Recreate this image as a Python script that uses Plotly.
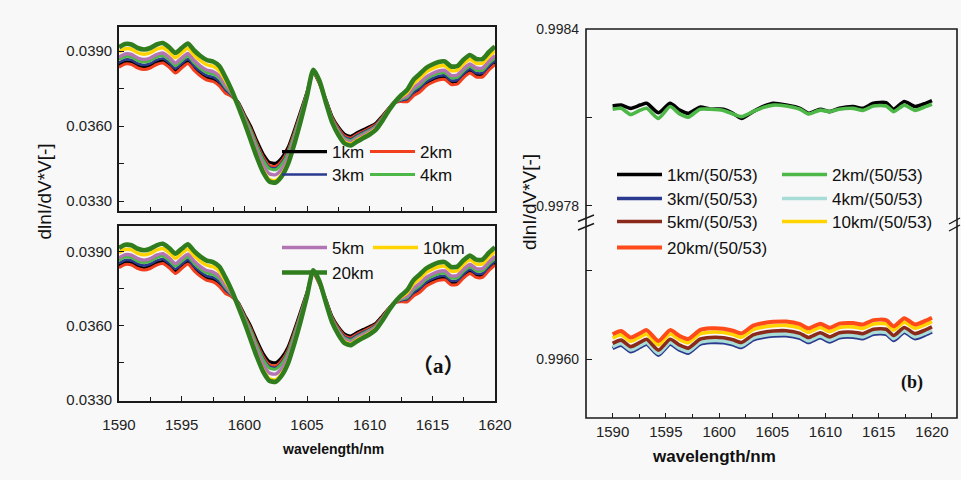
import plotly.graph_objects as go

W, H = 961, 480

# ---------------- data: panel (a) ----------------
wl_a = [1590.0, 1590.5, 1591.0, 1591.5, 1592.0, 1592.5, 1593.0, 1593.5, 1594.0, 1594.5,
        1595.0, 1595.5, 1596.0, 1596.5, 1597.0, 1597.5, 1598.0, 1598.5, 1599.0, 1599.5,
        1600.0, 1600.5, 1601.0, 1601.5, 1602.0, 1602.5, 1603.0, 1603.5, 1604.0, 1604.5,
        1605.0, 1605.5, 1606.0, 1606.5, 1607.0, 1607.5, 1608.0, 1608.5, 1609.0, 1609.5,
        1610.0, 1610.5, 1611.0, 1611.5, 1612.0, 1612.5, 1613.0, 1613.5, 1614.0, 1614.5,
        1615.0, 1615.5, 1616.0, 1616.5, 1617.0, 1617.5, 1618.0, 1618.5, 1619.0, 1619.5,
        1620.0]

km1_a = [0.03843, 0.03856, 0.03854, 0.03840, 0.03834, 0.03840, 0.03854, 0.03860, 0.03843, 0.03820,
         0.03840, 0.03858, 0.03830, 0.03808, 0.03792, 0.03786, 0.03768, 0.03737, 0.03720, 0.03695,
         0.03646, 0.03599, 0.03540, 0.03488, 0.03455, 0.03451, 0.03473, 0.03515, 0.03584, 0.03659,
         0.03735, 0.03817, 0.03772, 0.03706, 0.03637, 0.03596, 0.03567, 0.03559, 0.03573, 0.03585,
         0.03597, 0.03611, 0.03639, 0.03669, 0.03695, 0.03700, 0.03702, 0.03727, 0.03743, 0.03767,
         0.03781, 0.03791, 0.03793, 0.03773, 0.03775, 0.03801, 0.03819, 0.03803, 0.03803, 0.03830,
         0.03853]
km2_a = [0.03835, 0.03848, 0.03846, 0.03832, 0.03826, 0.03832, 0.03846, 0.03852, 0.03835, 0.03812,
         0.03832, 0.03850, 0.03822, 0.03800, 0.03784, 0.03778, 0.03760, 0.03731, 0.03718, 0.03693,
         0.03641, 0.03590, 0.03529, 0.03476, 0.03442, 0.03438, 0.03461, 0.03504, 0.03575, 0.03652,
         0.03733, 0.03813, 0.03768, 0.03704, 0.03633, 0.03591, 0.03560, 0.03552, 0.03567, 0.03579,
         0.03592, 0.03606, 0.03635, 0.03668, 0.03695, 0.03698, 0.03697, 0.03721, 0.03736, 0.03760,
         0.03774, 0.03784, 0.03786, 0.03766, 0.03768, 0.03794, 0.03812, 0.03796, 0.03796, 0.03823,
         0.03846]
km3_a = [0.03853, 0.03866, 0.03864, 0.03850, 0.03844, 0.03850, 0.03864, 0.03870, 0.03853, 0.03830,
         0.03850, 0.03868, 0.03840, 0.03818, 0.03802, 0.03796, 0.03778, 0.03745, 0.03723, 0.03691,
         0.03638, 0.03585, 0.03523, 0.03469, 0.03435, 0.03431, 0.03454, 0.03498, 0.03570, 0.03649,
         0.03731, 0.03815, 0.03770, 0.03703, 0.03630, 0.03586, 0.03555, 0.03547, 0.03562, 0.03575,
         0.03587, 0.03603, 0.03633, 0.03666, 0.03695, 0.03703, 0.03708, 0.03735, 0.03752, 0.03776,
         0.03790, 0.03800, 0.03802, 0.03782, 0.03784, 0.03810, 0.03828, 0.03812, 0.03812, 0.03839,
         0.03862]
km4_a = [0.03865, 0.03878, 0.03876, 0.03862, 0.03856, 0.03862, 0.03876, 0.03882, 0.03865, 0.03842,
         0.03862, 0.03880, 0.03852, 0.03830, 0.03814, 0.03808, 0.03790, 0.03755, 0.03727, 0.03690,
         0.03635, 0.03581, 0.03518, 0.03463, 0.03429, 0.03425, 0.03448, 0.03493, 0.03566, 0.03646,
         0.03730, 0.03818, 0.03773, 0.03701, 0.03627, 0.03582, 0.03550, 0.03542, 0.03557, 0.03570,
         0.03583, 0.03599, 0.03630, 0.03665, 0.03695, 0.03707, 0.03715, 0.03745, 0.03763, 0.03787,
         0.03801, 0.03811, 0.03813, 0.03793, 0.03795, 0.03821, 0.03839, 0.03823, 0.03823, 0.03850,
         0.03873]
km5_a = [0.03875, 0.03888, 0.03886, 0.03872, 0.03866, 0.03872, 0.03886, 0.03892, 0.03875, 0.03852,
         0.03872, 0.03890, 0.03862, 0.03840, 0.03824, 0.03818, 0.03800, 0.03763, 0.03730, 0.03686,
         0.03627, 0.03567, 0.03501, 0.03444, 0.03409, 0.03405, 0.03429, 0.03476, 0.03552, 0.03636,
         0.03726, 0.03820, 0.03775, 0.03699, 0.03623, 0.03577, 0.03544, 0.03536, 0.03551, 0.03565,
         0.03578, 0.03595, 0.03627, 0.03664, 0.03695, 0.03710, 0.03721, 0.03753, 0.03772, 0.03796,
         0.03810, 0.03820, 0.03822, 0.03802, 0.03804, 0.03830, 0.03848, 0.03832, 0.03832, 0.03859,
         0.03882]
km10_a = [0.03896, 0.03909, 0.03907, 0.03893, 0.03887, 0.03893, 0.03907, 0.03913, 0.03896, 0.03873,
          0.03893, 0.03911, 0.03883, 0.03861, 0.03845, 0.03839, 0.03821, 0.03780, 0.03736, 0.03682,
          0.03618, 0.03551, 0.03482, 0.03423, 0.03386, 0.03382, 0.03408, 0.03457, 0.03536, 0.03624,
          0.03722, 0.03822, 0.03777, 0.03697, 0.03619, 0.03570, 0.03536, 0.03528, 0.03544, 0.03557,
          0.03571, 0.03589, 0.03623, 0.03662, 0.03695, 0.03716, 0.03734, 0.03770, 0.03791, 0.03815,
          0.03829, 0.03839, 0.03841, 0.03821, 0.03823, 0.03849, 0.03867, 0.03851, 0.03851, 0.03878,
          0.03901]
km20_a = [0.03915, 0.03928, 0.03926, 0.03912, 0.03906, 0.03912, 0.03926, 0.03932, 0.03915, 0.03892,
          0.03912, 0.03930, 0.03902, 0.03880, 0.03864, 0.03858, 0.03840, 0.03795, 0.03742, 0.03680,
          0.03615, 0.03545, 0.03475, 0.03415, 0.03378, 0.03374, 0.03400, 0.03450, 0.03530, 0.03620,
          0.03720, 0.03825, 0.03780, 0.03695, 0.03615, 0.03565, 0.03530, 0.03522, 0.03538, 0.03552,
          0.03566, 0.03585, 0.03620, 0.03660, 0.03695, 0.03722, 0.03745, 0.03785, 0.03808, 0.03832,
          0.03846, 0.03856, 0.03858, 0.03838, 0.03840, 0.03866, 0.03884, 0.03868, 0.03868, 0.03895,
          0.03918]

names_a = ["1km", "2km", "3km", "4km", "5km", "10km", "20km"]

# ---------------- data: panel (b) ----------------
wl_b = [1590.0, 1590.8, 1591.7, 1592.6, 1593.2, 1594.3, 1595.4, 1596.3, 1597.1, 1598.2,
        1599.2, 1600.4, 1601.3, 1602.1, 1603.2, 1604.2, 1605.1, 1606.3, 1607.6, 1608.4,
        1609.5, 1610.4, 1611.3, 1612.6, 1613.5, 1614.5, 1615.7, 1616.4, 1617.4, 1618.4,
        1619.4, 1620.0]

km1_b = [0.998139, 0.998142, 0.998131, 0.998142, 0.998148, 0.998116, 0.998148, 0.998125, 0.998114, 0.998135,
         0.998128, 0.998128, 0.998114, 0.998097, 0.998120, 0.998138, 0.998148, 0.998142, 0.998131, 0.998114,
         0.998128, 0.998120, 0.998131, 0.998137, 0.998131, 0.998148, 0.998150, 0.998128, 0.998154, 0.998137,
         0.998148, 0.998157]
km2_b = [0.998128, 0.998131, 0.998110, 0.998125, 0.998131, 0.998097, 0.998137, 0.998112, 0.998101, 0.998128,
         0.998128, 0.998124, 0.998112, 0.998103, 0.998120, 0.998135, 0.998142, 0.998139, 0.998128, 0.998112,
         0.998125, 0.998120, 0.998128, 0.998131, 0.998124, 0.998139, 0.998139, 0.998120, 0.998142, 0.998124,
         0.998137, 0.998145]
km3_b = [0.996036, 0.996047, 0.996025, 0.996040, 0.996050, 0.996013, 0.996050, 0.996030, 0.996020, 0.996050,
         0.996056, 0.996055, 0.996048, 0.996039, 0.996065, 0.996074, 0.996078, 0.996079, 0.996070, 0.996056,
         0.996072, 0.996058, 0.996072, 0.996074, 0.996069, 0.996084, 0.996084, 0.996063, 0.996090, 0.996069,
         0.996082, 0.996092]
km4_b = [0.996042, 0.996053, 0.996031, 0.996046, 0.996056, 0.996019, 0.996056, 0.996036, 0.996026, 0.996056,
         0.996062, 0.996061, 0.996054, 0.996045, 0.996071, 0.996080, 0.996084, 0.996085, 0.996076, 0.996062,
         0.996078, 0.996064, 0.996078, 0.996080, 0.996075, 0.996090, 0.996090, 0.996069, 0.996096, 0.996075,
         0.996088, 0.996098]
km5_b = [0.996053, 0.996064, 0.996042, 0.996057, 0.996067, 0.996030, 0.996067, 0.996047, 0.996037, 0.996067,
         0.996073, 0.996072, 0.996065, 0.996056, 0.996082, 0.996091, 0.996095, 0.996096, 0.996087, 0.996073,
         0.996089, 0.996075, 0.996089, 0.996091, 0.996086, 0.996101, 0.996101, 0.996080, 0.996107, 0.996086,
         0.996099, 0.996109]
km10_b = [0.996071, 0.996082, 0.996060, 0.996075, 0.996085, 0.996048, 0.996085, 0.996065, 0.996055, 0.996085,
          0.996091, 0.996090, 0.996083, 0.996074, 0.996100, 0.996109, 0.996113, 0.996114, 0.996105, 0.996091,
          0.996107, 0.996093, 0.996107, 0.996109, 0.996104, 0.996119, 0.996119, 0.996098, 0.996125, 0.996104,
          0.996117, 0.996127]
km20_b = [0.996084, 0.996095, 0.996073, 0.996088, 0.996098, 0.996061, 0.996098, 0.996078, 0.996068, 0.996098,
          0.996104, 0.996103, 0.996096, 0.996087, 0.996113, 0.996122, 0.996126, 0.996127, 0.996118, 0.996104,
          0.996120, 0.996106, 0.996120, 0.996122, 0.996117, 0.996132, 0.996132, 0.996111, 0.996138, 0.996117,
          0.996130, 0.996140]

names_b = ["1km/(50/53)", "2km/(50/53)", "3km/(50/53)", "4km/(50/53)",
           "5km/(50/53)", "10km/(50/53)", "20km/(50/53)"]

# tick labels
xticks = [1590, 1595, 1600, 1605, 1610, 1615, 1620]
xminor = [1592.5, 1597.5, 1602.5, 1607.5, 1612.5, 1617.5]
yticks_a = [0.0330, 0.0360, 0.0390]
yminor_a = [0.0345, 0.0375]
yticks_b_top = [0.9978, 0.9984]
yminor_b_top = [0.9981]
yticks_b_bot = [0.9960]
yminor_b_bot = [0.9963]

# ---------------- styles ----------------
SANS = "Arial, Liberation Sans, sans-serif"
colors_a = ["#000000", "#F2401E", "#2B3A8F", "#4DB848", "#B274B2", "#FFD400", "#2F7D1E"]
widths_a = [3.2, 3.0, 2.6, 3.0, 3.4, 3.4, 4.6]
colors_b = ["#000000", "#4DB848", "#2B3A8F", "#A8DCD6", "#8B2A1A", "#FFD400", "#FF4A1A"]
widths_b = [3.6, 3.6, 3.6, 3.6, 3.6, 3.6, 4.0]

data_a = [km1_a, km2_a, km3_a, km4_a, km5_a, km10_a, km20_a]
data_b = [km1_b, km2_b, km3_b, km4_b, km5_b, km10_b, km20_b]

IW = 45  # legend symbol width
legend_top = ["legend", "legend", "legend2", "legend2", None, None, None]
legend_bot = [None, None, None, None, "legend3", "legend3", "legend4"]
legend_b = ["legend5", "legend5", "legend6", "legend6", "legend7", "legend7", "legend8"]
lw_top = [88 - IW - 15, 45, 88 - IW - 15, 45, 40, 40, 40]
lw_bot = [40, 40, 40, 40, 91 - IW - 15, 55, 55]
lw_b = [165 - IW - 15, 110, 165 - IW - 15, 110, 165 - IW - 15, 110, 110]

fig = go.Figure()

for i, (nm, ys) in enumerate(zip(names_a, data_a)):
    lg = legend_top[i]
    fig.add_trace(go.Scatter(
        x=wl_a, y=ys, name=nm, mode="lines",
        line=dict(color=colors_a[i], width=widths_a[i], shape="spline", smoothing=0.6),
        xaxis="x", yaxis="y", showlegend=lg is not None,
        legend=lg if lg else "legend", legendwidth=lw_top[i]))
for i, (nm, ys) in enumerate(zip(names_a, data_a)):
    lg = legend_bot[i]
    fig.add_trace(go.Scatter(
        x=wl_a, y=ys, name=nm, mode="lines",
        line=dict(color=colors_a[i], width=widths_a[i], shape="spline", smoothing=0.6),
        xaxis="x2", yaxis="y2", showlegend=lg is not None,
        legend=lg if lg else "legend", legendwidth=lw_bot[i]))
for i, (nm, ys) in enumerate(zip(names_b, data_b)):
    fig.add_trace(go.Scatter(
        x=wl_b, y=ys, name=nm, mode="lines",
        line=dict(color=colors_b[i], width=widths_b[i], shape="spline", smoothing=0.6),
        xaxis="x3", yaxis="y3" if i < 2 else "y4",
        legend=legend_b[i], legendwidth=lw_b[i]))


def px_x(p):
    return p / W


def px_y(p):
    return 1 - p / H


tickfont = dict(family=SANS, size=15, color="#222222")
axcol = "#1a1a1a"

common_x = dict(range=[1590, 1620], tickmode="array", tickvals=xticks,
                ticks="inside", ticklen=5, tickwidth=1.3, tickcolor=axcol,
                minor=dict(tickmode="array", tickvals=xminor, ticks="inside", ticklen=4,
                           tickwidth=1.2, tickcolor=axcol),
                showgrid=False, zeroline=False, showline=True, linecolor=axcol,
                linewidth=1.6, mirror=True, tickfont=tickfont, automargin=False)
common_ya = dict(tickmode="array", tickvals=yticks_a, tickformat=".4f",
                 ticks="inside", ticklen=5, tickwidth=1.3, tickcolor=axcol,
                 minor=dict(tickmode="array", tickvals=yminor_a, ticks="inside",
                            ticklen=5, tickwidth=1.2, tickcolor=axcol),
                 showgrid=False, zeroline=False, showline=True, linecolor=axcol,
                 linewidth=1.6, mirror=True, tickfont=tickfont, automargin=False,
                 ticklabelstandoff=2)

leg_common = dict(orientation="h", xanchor="left", yanchor="middle",
                  bgcolor="rgba(0,0,0,0)", borderwidth=0,
                  font=dict(family=SANS, size=17, color="#111111"),
                  entrywidthmode="pixels", itemwidth=IW)

fig.update_layout(
    width=W, height=H,
    margin=dict(l=0, r=0, t=0, b=0),
    paper_bgcolor="#f8f8f8", plot_bgcolor="#f8f8f8",
    xaxis=dict(domain=[px_x(119), px_x(495)], anchor="y", showticklabels=False, **common_x),
    yaxis=dict(domain=[px_y(211), px_y(27)], anchor="x", range=[0.0326, 0.03996], **common_ya),
    xaxis2=dict(domain=[px_x(119), px_x(495)], anchor="y2", ticklabelstandoff=9, **common_x),
    yaxis2=dict(domain=[px_y(401), px_y(226)], anchor="x2", range=[0.03296, 0.04004], **common_ya),
    xaxis3=dict(domain=[px_x(586), px_x(957)], anchor="y4", range=[1587.5, 1622.35],
                tickmode="array", tickvals=xticks, ticks="inside", ticklen=5, tickwidth=1.3,
                tickcolor=axcol,
                minor=dict(tickmode="array", tickvals=xminor, ticks="inside", ticklen=4,
                           tickwidth=1.2, tickcolor=axcol),
                showgrid=False, zeroline=False, showline=False, tickfont=tickfont,
                automargin=False, ticklabelstandoff=3),
    yaxis3=dict(domain=[px_y(221), px_y(29)], anchor="x3", range=[0.997749, 0.9984],
                tickmode="array", tickvals=yticks_b_top, tickformat=".4f",
                ticks="inside", ticklen=6, tickwidth=1.3, tickcolor=axcol,
                minor=dict(tickmode="array", tickvals=yminor_b_top, ticks="inside",
                           ticklen=6, tickwidth=1.2, tickcolor=axcol),
                showgrid=False, zeroline=False, showline=False, tickfont=dict(family=SANS, size=14, color="#222222"),
                automargin=False, ticklabelstandoff=6),
    yaxis4=dict(domain=[px_y(418), px_y(221)], anchor="x3", range=[0.9958, 0.996468],
                tickmode="array", tickvals=yticks_b_bot, tickformat=".4f",
                ticks="inside", ticklen=6, tickwidth=1.3, tickcolor=axcol,
                minor=dict(tickmode="array", tickvals=yminor_b_bot, ticks="inside",
                           ticklen=6, tickwidth=1.2, tickcolor=axcol),
                showgrid=False, zeroline=False, showline=False, tickfont=dict(family=SANS, size=14, color="#222222"),
                automargin=False, ticklabelstandoff=6),
    legend=dict(x=px_x(332 - IW - 10), y=px_y(152), **leg_common),
    legend2=dict(x=px_x(332 - IW - 10), y=px_y(175), **leg_common),
    legend3=dict(x=px_x(332 - IW - 10), y=px_y(248), **leg_common),
    legend4=dict(x=px_x(332 - IW - 10), y=px_y(273), **leg_common),
    legend5=dict(x=px_x(667 - IW - 10), y=px_y(175), **leg_common),
    legend6=dict(x=px_x(667 - IW - 10), y=px_y(199), **leg_common),
    legend7=dict(x=px_x(667 - IW - 10), y=px_y(222), **leg_common),
    legend8=dict(x=px_x(667 - IW - 10), y=px_y(248), **leg_common),
)

# frame of panel (b) and axis-break marks
shapes = [
    dict(type="rect", xref="paper", yref="paper", x0=px_x(586), x1=px_x(957),
         y0=px_y(418), y1=px_y(29), line=dict(color=axcol, width=1.6)),
    dict(type="line", xref="paper", yref="paper", x0=px_x(578), y0=px_y(221.5),
         x1=px_x(594), y1=px_y(215), line=dict(color=axcol, width=1.4)),
    dict(type="line", xref="paper", yref="paper", x0=px_x(578), y0=px_y(230),
         x1=px_x(594), y1=px_y(223.5), line=dict(color=axcol, width=1.4)),
    dict(type="line", xref="paper", yref="paper", x0=px_x(949), y0=px_y(224),
         x1=px_x(960), y1=px_y(218), line=dict(color=axcol, width=1.4)),
    dict(type="line", xref="paper", yref="paper", x0=px_x(949), y0=px_y(231),
         x1=px_x(960), y1=px_y(225), line=dict(color=axcol, width=1.4)),
]
fig.update_layout(shapes=shapes)

ann = [
    dict(text="dlnI/dV*V[-]", x=px_x(31), y=px_y(192), xref="paper", yref="paper",
         showarrow=False, textangle=-90, font=dict(family=SANS, size=19, color="#111111")),
    dict(text="dlnI/dV*V[-]", x=px_x(529), y=px_y(202), xref="paper", yref="paper",
         showarrow=False, textangle=-90, font=dict(family=SANS, size=19, color="#111111")),
    dict(text="<b>wavelength/nm</b>", x=px_x(280), y=px_y(459), xref="paper", yref="paper",
         showarrow=False, font=dict(family=SANS, size=14, color="#111111")),
    dict(text="<b>wavelength/nm</b>", x=px_x(778), y=px_y(468), xref="paper", yref="paper",
         showarrow=False, font=dict(family=SANS, size=17, color="#111111")),
    dict(text="<b>（<span style=\"font-family:Liberation Serif\">a</span>）</b>",
         x=px_x(438), y=px_y(381), xref="paper", yref="paper",
         showarrow=False, font=dict(family="Noto Sans CJK SC, Liberation Serif, serif", size=21, color="#111111")),
    dict(text="<b>(b)</b>", x=px_x(925), y=px_y(395), xref="paper", yref="paper",
         showarrow=False, font=dict(family="Liberation Serif, Times New Roman, serif", size=18, color="#111111")),
]
fig.update_layout(annotations=ann)

fig.write_html("out.html", config={"displayModeBar": False},
               post_script="document.body.style.margin='0';document.body.style.padding='0';document.body.style.overflow='hidden';")
